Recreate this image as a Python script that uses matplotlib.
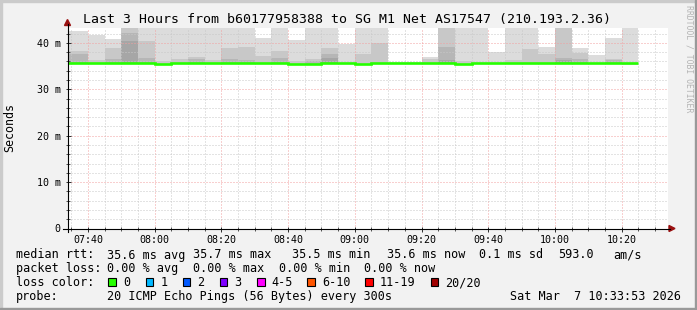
import numpy as np
import matplotlib
matplotlib.use("Agg")
import matplotlib.pyplot as plt
from matplotlib.patches import Rectangle, Polygon
from matplotlib.lines import Line2D
from matplotlib.ticker import MultipleLocator, FixedLocator

W, H = 697, 310
plt.rcParams['font.family'] = ['DejaVu Sans Mono']

# time axis in minutes after midnight, graph window 07:33:53 .. 10:33:53
t_start = 7 * 60 + 33 + 53 / 60
t_end = 10 * 60 + 33 + 53 / 60
bar_end = np.arange(460, 626, 5)          # 5 min steps ending 07:40 .. 10:25

x_ticks = [460, 480, 500, 520, 540, 560, 580, 600, 620]
x_labels = ["07:40", "08:00", "08:20", "08:40", "09:00",
            "09:20", "09:40", "10:00", "10:20"]
y_ticks = [0, 10, 20, 30, 40]
y_labels = ["0", "10 m", "20 m", "30 m", "40 m"]

# median rtt per step (ms)
median = [35.7, 35.7, 35.7, 35.7, 35.7, 35.45, 35.7, 35.7, 35.7, 35.7,
          35.7, 35.7, 35.7, 35.45, 35.45, 35.7, 35.7, 35.45, 35.7, 35.7,
          35.7, 35.7, 35.7, 35.45, 35.7, 35.7, 35.7, 35.7, 35.7, 35.7,
          35.7, 35.7, 35.7, 35.7]
# lowest ping per step
smoke_min = [35.5] * 33 + [35.25]
# smoke layers, tops in ms (None = no such layer); lightest -> darkest
N = None
smoke_l1 = [42.5, 41.7, 40.8, N, 44, 44, 44, 44, 44, 44,
            44, 41.1, 44, 40.6, 44, 44, 39.8, 44, 44, 35.9,
            35.9, 37.0, N, 44, 44, 38.1, 44, 44, 39.2, N,
            38.9, 37.3, 41.0, 44]
smoke_l2 = [38.2, 36.3, 38.9, 44, 40.4, 36.1, 36.5, 37.0, 36.3, 38.8,
            39.2, 37.2, 38.3, 36.0, 36.5, 38.9, N, 37.7, 39.9, N,
            N, 36.6, 44, 36.0, N, N, 36.3, 38.7, 37.6, 44,
            37.9, N, 36.5, N]
smoke_l3 = [37.7, N, 36.5, 42.2, 36.8, N, N, 36.6, N, 36.5,
            36.3, N, 36.8, N, 36.0, 37.6, N, N, N, N,
            N, N, 39.2, N, N, N, N, N, N, 36.8,
            36.5, N, 36.2, N]
smoke_l4 = [N, N, N, 40.4, N, N, N, N, N, N,
            N, N, N, N, N, 36.7, N, N, N, N,
            N, N, 36.3, N, N, N, N, N, N, 36.3,
            N, N, N, N]
smoke_colors = ['#dcdcdc', '#c8c8c8', '#b6b6b6', '#a6a6a6']

loss_labels = ["0", "1", "2", "3", "4-5", "6-10", "11-19", "20/20"]
loss_colors = ['#26ff00', '#00b8ff', '#0059ff', '#7e00ff',
               '#ff00ff', '#ff5500', '#ff0000', '#a00000']


def fx(x):
    return x / W


def fy(y):
    return 1 - y / H


fig = plt.figure(figsize=(W / 100, H / 100), dpi=100, facecolor='#f2f2f2')
ax = fig.add_axes([fx(67.5), fy(228.5), (668 - 67.5) / W, (228.5 - 28) / H])
ax.set_facecolor('white')
ax.set_xlim(t_start, t_end)
ax.set_ylim(0, 43.2)

edges = np.concatenate([[t_start], bar_end])
left = edges[:-1]
width = np.diff(edges)
bottom = np.array(smoke_min)
for layer, col in zip([smoke_l1, smoke_l2, smoke_l3, smoke_l4], smoke_colors):
    top = np.array(layer, dtype=float)
    m = ~np.isnan(top)
    ax.bar(left[m], top[m] - bottom[m], width=width[m], bottom=bottom[m],
           align='edge', color=col, linewidth=0, zorder=1)

ax.stairs(median, edges, baseline=None, color='#26ff00', linewidth=1.9, zorder=4)

# grid
ax.xaxis.set_major_locator(FixedLocator(x_ticks))
ax.xaxis.set_minor_locator(MultipleLocator(5))
ax.yaxis.set_major_locator(FixedLocator(y_ticks))
ax.yaxis.set_minor_locator(MultipleLocator(2))
ax.set_xticklabels(x_labels)
ax.set_yticklabels(y_labels)
ax.set_axisbelow(False)
ax.grid(which='minor', color='#c8c8c8', linestyle=(0, (1, 2)), linewidth=0.72)
ax.grid(which='major', color='#f2a0a0', linestyle=(0, (1, 2)), linewidth=0.72)
ax.tick_params(which='major', direction='inout', length=3.6, width=0.72,
               color='#333333', labelsize=7.2, pad=2.6)
ax.tick_params(axis='y', which='major', pad=3.2)
ax.tick_params(which='minor', direction='inout', length=2.2, width=0.72,
               color='#555555')
for s in ax.spines.values():
    s.set_visible(False)

# axis lines with arrows
fig.add_artist(Line2D([fx(63), fx(670)], [fy(228.5), fy(228.5)], color='black', lw=0.8))
fig.add_artist(Line2D([fx(67.5), fx(67.5)], [fy(232), fy(24)], color='black', lw=0.8))
arrow_col = '#9a1010'
fig.add_artist(Polygon([(fx(67.5), fy(19.5)), (fx(64.5), fy(25.5)), (fx(70.5), fy(25.5))],
                       closed=True, color=arrow_col, transform=fig.transFigure))
fig.add_artist(Polygon([(fx(675), fy(228.5)), (fx(669), fy(225.5)), (fx(669), fy(231.5))],
                       closed=True, color=arrow_col, transform=fig.transFigure))

# frame
fig.add_artist(Rectangle((0, fy(2)), 1, 2 / H, color='#cbcbcb', transform=fig.transFigure))
fig.add_artist(Rectangle((0, 0), 2 / W, 1, color='#cbcbcb', transform=fig.transFigure))
fig.add_artist(Rectangle((0, 0), 1, 2 / H, color='#999999', transform=fig.transFigure))
fig.add_artist(Rectangle((fx(695), 0), 2 / W, 1, color='#999999', transform=fig.transFigure))

# titles
fig.text(fx(347), fy(23.5), "Last 3 Hours from b60177958388 to SG M1 Net AS17547 (210.193.2.36)",
         ha='center', va='baseline', fontsize=9.5, color='black')
fig.text(fx(10), fy(127.5), "Seconds", rotation=90, ha='center', va='center',
         fontsize=8.4, color='black')
fig.text(fx(688.5), fy(59), "RRDTOOL / TOBI OETIKER", rotation=270, ha='center',
         va='center', fontsize=5.9, color='#b4b4b4')

# legend
fs = 8.5
rows = [
    (258.5, [(15.5, "median rtt:"), (106.8, "35.6 ms avg"), (192.8, "35.7 ms max"),
             (292.2, "35.5 ms min"), (386.5, "35.6 ms now"), (478.8, "0.1 ms sd"),
             (557.8, "593.0"), (613.5, "am/s")]),
    (272.3, [(15.5, "packet loss:"), (106.8, "0.00 % avg"), (192.8, "0.00 % max"),
             (278.8, "0.00 % min"), (364.5, "0.00 % now")]),
    (286.0, [(15.5, "loss color:")]),
    (300.0, [(15.5, "probe:"), (106.8, "20 ICMP Echo Pings (56 Bytes) every 300s")]),
]
for yb, items in rows:
    for xx, txt in items:
        fig.text(fx(xx), fy(yb), txt, ha='left', va='baseline', fontsize=fs, color='black')
fig.text(fx(681), fy(300.0), "Sat Mar  7 10:33:53 2026", ha='right', va='baseline',
         fontsize=fs, color='black')

box_x = [108.3, 145.7, 182.7, 220.0, 257.3, 307.3, 365.0, 430.7]
for bx, lab, col in zip(box_x, loss_labels, loss_colors):
    fig.add_artist(Rectangle((fx(bx), fy(285.5)), 7.5 / W, 7.5 / H, facecolor=col,
                             edgecolor='black', lw=0.8, transform=fig.transFigure))
    fig.text(fx(bx + 14.5), fy(286.0), lab, ha='left', va='baseline', fontsize=fs,
             color='black')

fig.savefig("out.png", dpi=100, facecolor=fig.get_facecolor())
